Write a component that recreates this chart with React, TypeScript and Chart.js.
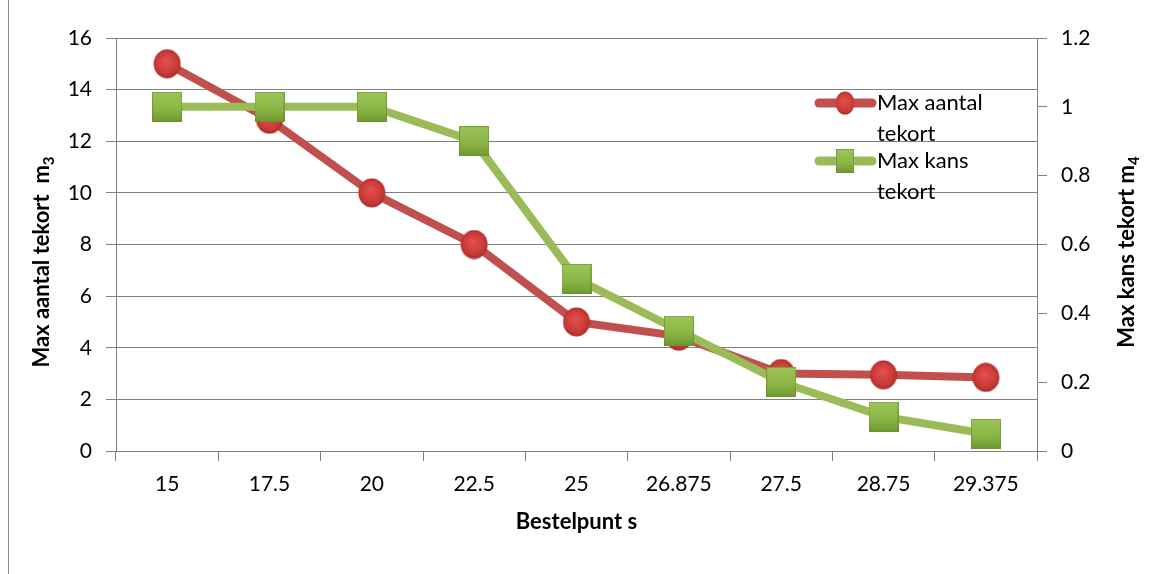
import React, { useEffect, useRef } from "react";
import { Chart, registerables } from "chart.js";

Chart.register(...registerables);

const categories = ["15", "17.5", "20", "22.5", "25", "26.875", "27.5", "28.75", "29.375"];
const maxAantalTekort = [15, 12.85, 10, 8, 5, 4.45, 3.0, 2.95, 2.85];
const maxKansTekort = [1, 1, 1, 0.9, 0.5, 0.35, 0.2, 0.1, 0.05];
const legendLabels = [["Max aantal", "tekort"], ["Max kans", "tekort"]];

const FONT = "Lato, 'Open Sans', sans-serif";
const GRID = "#808080";
const RED = "#C0504D";
const GREEN = "#9BBB59";

function makeRedMarker(w: number, h: number) {
  const c = document.createElement("canvas");
  c.width = w;
  c.height = h;
  const ctx = c.getContext("2d")!;
  const g = ctx.createRadialGradient(w * 0.45, h * 0.4, 1, w / 2, h / 2, Math.max(w, h) / 2);
  g.addColorStop(0, "#E4504C");
  g.addColorStop(0.7, "#C93A36");
  g.addColorStop(1, "#A52A27");
  ctx.fillStyle = g;
  ctx.beginPath();
  ctx.ellipse(w / 2, h / 2, w / 2 - 0.5, h / 2 - 0.5, 0, 0, Math.PI * 2);
  ctx.fill();
  return c;
}

function makeGreenMarker(w: number, h: number) {
  const c = document.createElement("canvas");
  c.width = w;
  c.height = h;
  const ctx = c.getContext("2d")!;
  const g = ctx.createLinearGradient(0, 0, 0, h);
  g.addColorStop(0, "#9DC65A");
  g.addColorStop(0.6, "#8AB443");
  g.addColorStop(1, "#6F9732");
  ctx.fillStyle = g;
  ctx.fillRect(0, 0, w, h);
  ctx.strokeStyle = "rgba(100,140,40,0.6)";
  ctx.lineWidth = 1;
  ctx.strokeRect(0.5, 0.5, w - 1, h - 1);
  return c;
}

export default function App() {
  const ref = useRef<HTMLCanvasElement | null>(null);

  useEffect(() => {
    document.body.style.margin = "0";
    const canvas = ref.current!;
    const redImg = makeRedMarker(28, 30);
    const greenImg = makeGreenMarker(30, 30);
    const redLeg = makeRedMarker(20, 24);
    const greenLeg = makeGreenMarker(18, 24);

    const overlay = {
      id: "overlay",
      beforeDraw(chart: any) {
        const ctx = chart.ctx;
        ctx.save();
        ctx.strokeStyle = "#8c8c8c";
        ctx.lineWidth = 1;
        ctx.beginPath();
        ctx.moveTo(8.5, 0);
        ctx.lineTo(8.5, 574);
        ctx.stroke();
        ctx.restore();
      },
      afterDraw(chart: any) {
        const ctx = chart.ctx;
        const area = chart.chartArea;
        ctx.save();
        ctx.fillStyle = "#000";
        const drawSubTitle = (main: string, sub: string, cx: number, cy: number, rot: number) => {
          ctx.save();
          ctx.translate(cx, cy);
          ctx.rotate(rot);
          ctx.font = `bold 22px ${FONT}`;
          const w1 = ctx.measureText(main).width;
          ctx.font = `bold 15px ${FONT}`;
          const w2 = ctx.measureText(sub).width;
          const total = w1 + w2;
          ctx.textBaseline = "alphabetic";
          ctx.textAlign = "left";
          ctx.font = `bold 22px ${FONT}`;
          ctx.fillText(main, -total / 2, 8);
          ctx.font = `bold 15px ${FONT}`;
          ctx.fillText(sub, -total / 2 + w1, 13);
          ctx.restore();
        };
        drawSubTitle("Max aantal tekort  m", "3", 41, 262, -Math.PI / 2);
        drawSubTitle("Max kans tekort m", "4", 1126, 252, -Math.PI / 2);
        ctx.font = `bold 22px ${FONT}`;
        ctx.textAlign = "center";
        ctx.textBaseline = "middle";
        ctx.fillText("Bestelpunt s", (area.left + area.right) / 2, 522);

        // legend
        const items = [
          { color: RED, img: redLeg, y: 103 },
          { color: GREEN, img: greenLeg, y: 161 },
        ];
        items.forEach((it, i) => {
          ctx.strokeStyle = it.color;
          ctx.lineWidth = 9;
          ctx.lineCap = "round";
          ctx.beginPath();
          ctx.moveTo(819, it.y);
          ctx.lineTo(872, it.y);
          ctx.stroke();
          ctx.drawImage(it.img, 845 - it.img.width / 2, it.y - it.img.height / 2);
          ctx.font = `22px ${FONT}`;
          ctx.textAlign = "left";
          ctx.textBaseline = "middle";
          ctx.fillStyle = "#000";
          ctx.fillText(legendLabels[i][0], 877, it.y);
          ctx.fillText(legendLabels[i][1], 877, it.y + 31);
        });
        ctx.restore();
      },
    };

    const chart = new Chart(canvas, {
      type: "line",
      data: {
        labels: categories,
        datasets: [
          {
            label: "Max aantal tekort",
            data: maxAantalTekort,
            yAxisID: "y",
            borderColor: RED,
            borderWidth: 8,
            pointStyle: redImg as any,
            pointRadius: 14,
            order: 1,
          },
          {
            label: "Max kans tekort",
            data: maxKansTekort,
            yAxisID: "y1",
            borderColor: GREEN,
            borderWidth: 8,
            pointStyle: greenImg as any,
            pointRadius: 15,
            order: 0,
          },
        ],
      },
      options: {
        responsive: false,
        animation: false,
        layout: { padding: { top: 38, left: 0, right: 0, bottom: 0 } },
        plugins: { legend: { display: false }, tooltip: { enabled: false } },
        scales: {
          x: {
            type: "category",
            offset: true,
            grid: { offset: true, drawOnChartArea: false, color: GRID, tickLength: 10 },
            border: { color: GRID, width: 1 },
            ticks: { color: "#000", font: { family: FONT, size: 21 }, padding: 11, maxRotation: 0 },
            afterFit: (s: any) => { s.height = 123; },
          },
          y: {
            position: "left",
            min: 0,
            max: 16,
            ticks: { stepSize: 2, color: "#000", font: { family: FONT, size: 21 }, padding: 14 },
            grid: { color: GRID, tickLength: 10, lineWidth: 1 },
            border: { color: GRID, width: 1 },
            afterFit: (s: any) => { s.width = 116; },
          },
          y1: {
            position: "right",
            min: 0,
            max: 1.2,
            ticks: {
              stepSize: 0.2,
              color: "#000",
              font: { family: FONT, size: 21 },
              padding: 14,
              callback: (v: any) => String(Math.round(Number(v) * 10) / 10),
            },
            grid: { drawOnChartArea: false, color: GRID, tickLength: 10 },
            border: { color: GRID, width: 1 },
            afterFit: (s: any) => { s.width = 115; },
          },
        },
      },
      plugins: [overlay],
    });
    return () => chart.destroy();
  }, []);

  return (
    <div style={{ position: "absolute", left: 0, top: 0, width: 1152, height: 574, background: "#fff" }}>
      <canvas ref={ref} width={1152} height={574} />
    </div>
  );
}
